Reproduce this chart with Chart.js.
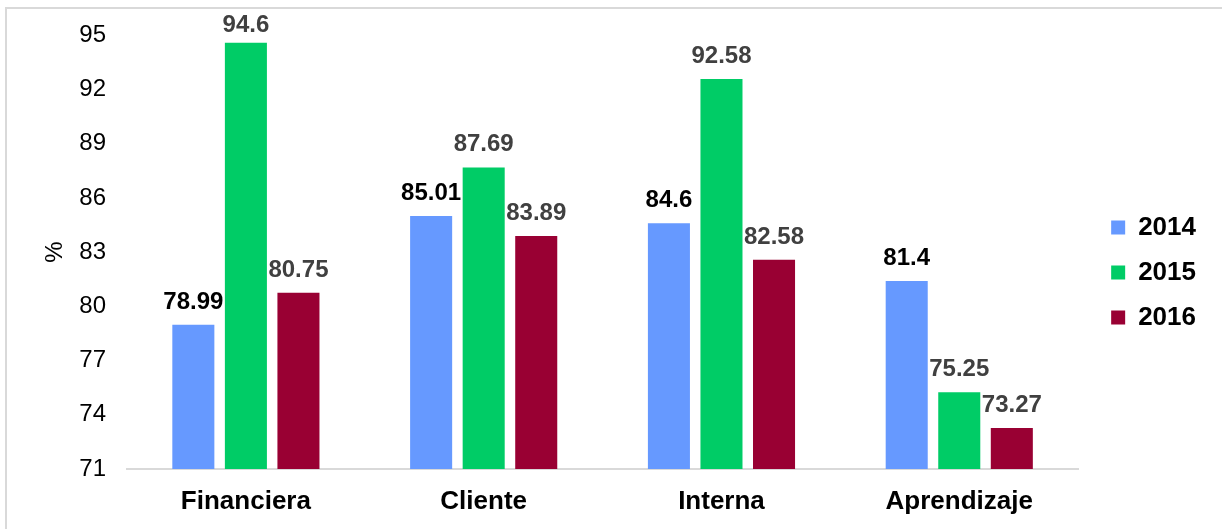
<!DOCTYPE html>
<html>
<head>
<meta charset="utf-8">
<script src="https://cdn.jsdelivr.net/npm/chart.js@4/dist/chart.umd.min.js"></script>
<style>
  html, body { margin: 0; padding: 0; background: #fff; }
  #wrap { position: relative; width: 1222px; height: 529px; }
  #frame {
    position: absolute; left: 5px; top: 7px; right: 0; bottom: 0;
    border-top: 2px solid #d9d9d9; border-left: 2px solid #d9d9d9;
    pointer-events: none;
  }
</style>
</head>
<body>
<div id="wrap">
  <canvas id="myChart" width="1222" height="529"></canvas>
  <div id="frame"></div>
</div>
<script>
const categories = ["Financiera", "Cliente", "Interna", "Aprendizaje"];
const years = ["2014", "2015", "2016"];
const values2014 = [78.99, 85.01, 84.6, 81.4];
const values2015 = [94.6, 87.69, 92.58, 75.25];
const values2016 = [80.75, 83.89, 82.58, 73.27];
const yTicks = [71, 74, 77, 80, 83, 86, 89, 92, 95];

const barColors = ["#6699ff", "#00cc66", "#990033"];
const labelColors = ["#000000", "#404040", "#404040"];
const FONT = "'Liberation Sans', Arial, sans-serif";

// writes each bar's value above it, kept just under the top of the plot
const valueLabels = {
  id: "valueLabels",
  afterDatasetsDraw(chart) {
    const ctx = chart.ctx;
    ctx.save();
    ctx.font = "bold 24px " + FONT;
    ctx.textAlign = "center";
    ctx.textBaseline = "alphabetic";
    chart.data.datasets.forEach((ds, i) => {
      const meta = chart.getDatasetMeta(i);
      ctx.fillStyle = labelColors[i];
      meta.data.forEach((bar, j) => {
        const y = Math.max(bar.y - 16, chart.chartArea.top - 3);
        ctx.fillText(String(ds.data[j]), bar.x, y);
      });
    });
    ctx.restore();
  },
};

const ctx = document.getElementById("myChart").getContext("2d");

new Chart(ctx, {
  type: "bar",
  data: {
    labels: categories,
    datasets: [values2014, values2015, values2016].map((vals, i) => ({
      label: years[i],
      data: vals,
      backgroundColor: barColors[i],
      borderWidth: 0,
      categoryPercentage: 0.663,
      barPercentage: 0.8,
    })),
  },
  options: {
    responsive: false,
    animation: false,
    layout: { padding: { left: 0, right: 16, top: 6, bottom: 0 } },
    plugins: {
      tooltip: { enabled: false },
      legend: {
        position: "right",
        align: "center",
        title: { display: true, text: " ", padding: 2, font: { size: 5 } },
        labels: {
          boxWidth: 14,
          boxHeight: 14,
          padding: 19,
          color: "#000000",
          font: { family: FONT, size: 26, weight: "bold" },
        },
      },
    },
    scales: {
      x: {
        grid: { display: false, drawTicks: false },
        border: { display: true, color: "#d9d9d9", width: 2 },
        ticks: {
          color: "#000000",
          padding: 17,
          font: { family: FONT, size: 26, weight: "bold" },
        },
        afterFit: (scale) => { scale.height = 60; },
      },
      y: {
        min: yTicks[0],
        max: yTicks[yTicks.length - 1],
        grid: { display: false, drawTicks: false },
        border: { display: false },
        ticks: {
          stepSize: yTicks[1] - yTicks[0],
          color: "#000000",
          padding: 21,
          font: { family: FONT, size: 24 },
        },
        title: {
          display: true,
          text: "%",
          color: "#000000",
          padding: { top: 41, bottom: 0 },
          font: { family: FONT, size: 24 },
        },
        afterFit: (scale) => { scale.width = 127; },
      },
      // empty axis on the right keeps space between the bars and the legend
      gap: {
        position: "right",
        display: true,
        grid: { display: false, drawTicks: false },
        border: { display: false },
        ticks: { display: false },
        afterFit: (scale) => { scale.width = 14; },
      },
    },
  },
  plugins: [valueLabels],
});
</script>
</body>
</html>
